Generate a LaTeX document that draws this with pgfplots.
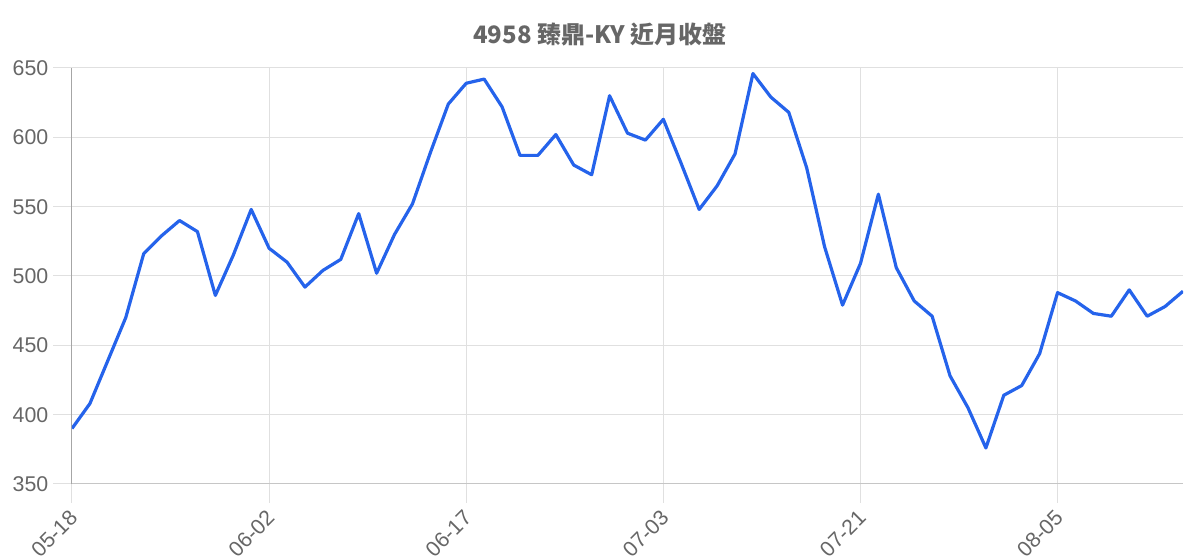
\documentclass[border=0pt]{standalone}
\usepackage{pgfplots}
\pgfplotsset{compat=1.18}
\usepackage{fontspec}
\setmainfont{Liberation Sans}
\newfontfamily\cjk{Noto Sans CJK TC}

\definecolor{linecol}{RGB}{37,99,235}
\definecolor{gridcol}{RGB}{224,224,224}
\definecolor{txtcol}{RGB}{102,102,102}

\begin{document}
\begin{tikzpicture}
	\begin{axis}
		[
		at={(0,0)}, anchor=south west,
		scale only axis,
		width=833.25pt,
		height=312pt,
		xmin=0, xmax=62,
		ymin=350, ymax=650,
		xtick={0,11,22,33,44,55},
		xticklabels={05-18,06-02,06-17,07-03,07-21,08-05},
		ytick={350,400,450,500,550,600,650},
		axis x line=bottom,
		axis y line=left,
		x axis line style={-, draw=gray!45, line width=0.75pt},
		y axis line style={-, draw=gray!70, line width=0.75pt},
		grid=major,
		grid style={draw=gridcol, line width=0.75pt},
		tick align=outside,
		major tick length=14.25pt,
		tick style={draw=gridcol, line width=0.75pt},
		tick label style={font=\fontsize{16}{18}\selectfont, text=txtcol},
		/pgf/number format/assume math mode=true,
		xticklabel style={rotate=45, anchor=north east, inner sep=1pt, xshift=-4pt},
		title={\cjk\bfseries 4958 臻鼎-KY 近月收盤},
		title style={at={(0.4752,1)}, anchor=center, yshift=19pt,
			font=\fontsize{18}{20}\selectfont, text=txtcol},
		]
		\addplot[color=linecol, line width=2.4pt, line join=round, mark=none] coordinates {
			(0,390) (1,408) (2,439) (3,470) (4,516) (5,529) (6,540) (7,532)
			(8,486) (9,515) (10,548) (11,520) (12,510) (13,492) (14,504) (15,512)
			(16,545) (17,502) (18,530) (19,552) (20,589) (21,624) (22,639) (23,642)
			(24,622) (25,587) (26,587) (27,602) (28,580) (29,573) (30,630) (31,603)
			(32,598) (33,613) (34,581) (35,548) (36,565) (37,588) (38,646) (39,629)
			(40,618) (41,578) (42,521) (43,479) (44,509) (45,559) (46,506) (47,482)
			(48,471) (49,428) (50,405) (51,376) (52,414) (53,421) (54,444) (55,488)
			(56,482) (57,473) (58,471) (59,490) (60,471) (61,478) (62,489)
		};
	\end{axis}
	\pgfresetboundingbox
	\path[use as bounding box] (-54pt,-57pt) rectangle (846pt,363pt);
\end{tikzpicture}
\end{document}
